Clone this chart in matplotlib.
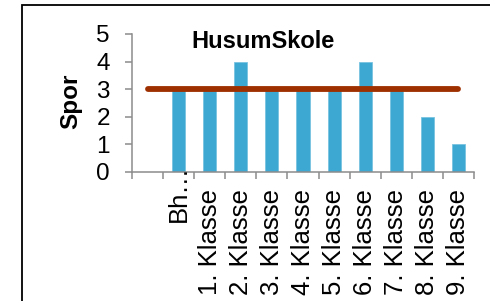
import matplotlib.pyplot as plt
from matplotlib.patches import Rectangle

categories = ['', 'Bh…', '1. Klasse', '2. Klasse', '3. Klasse', '4. Klasse',
              '5. Klasse', '6. Klasse', '7. Klasse', '8. Klasse', '9. Klasse']
spor = [0, 3, 3, 4, 3, 3, 3, 4, 3, 2, 1]
target = [3] * len(categories)
yticks = [0, 1, 2, 3, 4, 5]

plt.rcParams['font.family'] = ['Liberation Sans', 'DejaVu Sans']
fs_x = 18.5
fs_y = 17.5
fs_title = 17
axis_grey = '#8c8c8c'

fig = plt.figure(figsize=(4.9, 3.01), dpi=100)
ax = fig.add_axes([132 / 490, 1 - 172 / 301, 342 / 490, 138 / 301])

xs = list(range(len(categories)))
ax.bar(xs, spor, width=0.42, color='#3da9d3', edgecolor='#79c3e2',
       linewidth=0.6, zorder=2)
ax.plot(xs, target, color='#9e3000', lw=4.2, solid_capstyle='round',
        zorder=3)

ax.set_xlim(-0.5, len(categories) - 0.5)
ax.set_ylim(0, 5)
ax.set_yticks(yticks)
ax.set_yticklabels([str(v) for v in yticks], fontsize=fs_y)

# ticks at category boundaries, labels at centres
ax.set_xticks([i - 0.5 for i in range(len(categories) + 1)])
ax.set_xticklabels([])
ax.set_xticks(xs, minor=True)
labels = [c if not c.startswith('Bh') else '' for c in categories]
ax.set_xticklabels(labels, minor=True, rotation=90, fontsize=fs_x,
                   va='top', ha='center')
ax.tick_params(axis='x', which='minor', length=0, pad=12)
ax.tick_params(axis='x', which='major', length=5, width=1.1,
               color=axis_grey, direction='out')
ax.tick_params(axis='y', length=5, width=1.1, color=axis_grey,
               direction='out', pad=11)

# truncated label sits higher, as in the original
ax.text(1, -(162 - 172) / 138 - 0.02, 'Bh…', rotation=90, fontsize=fs_x,
        ha='center', va='top', transform=ax.get_xaxis_transform(),
        clip_on=False)

for side in ['top', 'right']:
    ax.spines[side].set_visible(False)
for side in ['left', 'bottom']:
    ax.spines[side].set_color(axis_grey)
    ax.spines[side].set_linewidth(1.1)

ax.set_ylabel('Spor', fontsize=fs_y, fontweight='bold')
ax.yaxis.set_label_coords((82 - 132) / 342, (172 - 101) / 138)

fig.text(263 / 490, 1 - 48 / 301, 'HusumSkole', fontsize=fs_title,
         fontweight='bold', ha='center', va='baseline')

fig.patches.append(Rectangle((22 / 490, -0.5), 2, 0.5 + 1 - 5 / 301,
                             transform=fig.transFigure, fill=False,
                             edgecolor='black', linewidth=1.3))

fig.savefig('out.png', dpi=100)
